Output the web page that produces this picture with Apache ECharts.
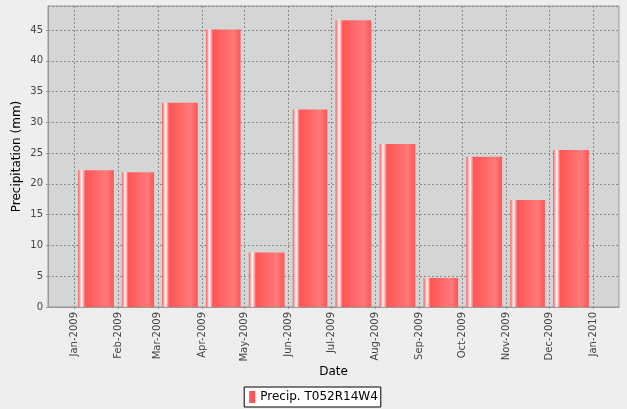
<!DOCTYPE html>
<html>
<head>
<meta charset="utf-8">
<script src="https://cdn.jsdelivr.net/npm/echarts@6/dist/echarts.min.js"></script>
<style>
  html, body { margin: 0; padding: 0; background: #eeeeee; }
  #precip-chart { width: 627px; height: 409px; }
</style>
</head>
<body>
<div id="precip-chart"></div>
<script>
// monthly precipitation, 2009
const months = ['2009-01', '2009-02', '2009-03', '2009-04', '2009-05', '2009-06',
                '2009-07', '2009-08', '2009-09', '2009-10', '2009-11', '2009-12'];
const precip = [22.2, 21.9, 33.2, 45.1, 8.85, 32.1, 46.6, 26.5, 4.7, 24.4, 17.4, 25.5];
const tickMonths = ['2009-01', '2009-02', '2009-03', '2009-04', '2009-05', '2009-06', '2009-07',
                    '2009-08', '2009-09', '2009-10', '2009-11', '2009-12', '2010-01'];
const seriesName = 'Precip. T052R14W4';

function monthStart(s) {
  const p = s.split('-');
  return new Date(+p[0], +p[1] - 1, 1).getTime();
}
function nextMonth(s) {
  const p = s.split('-');
  return new Date(+p[0], +p[1], 1).getTime();
}

const first = monthStart(months[0]);
const last = nextMonth(months[months.length - 1]);
const pad = (last - first) * 0.05;

const barData = months.map((m, i) => [monthStart(m), nextMonth(m), precip[i]]);
const tickValues = tickMonths.map(monthStart);

const barFill = new echarts.graphic.LinearGradient(0, 0, 1, 0, [
  { offset: 0, color: '#ff5555' },
  { offset: 0.1, color: '#ffffff' },
  { offset: 0.2, color: '#ff5555' },
  { offset: 0.8, color: '#ff7979' },
  { offset: 1, color: '#ff5555' }
]);

const chart = echarts.init(document.getElementById('precip-chart'));
const font = 'DejaVu Sans';
chart.setOption({
  backgroundColor: '#eeeeee',
  animation: false,
  textStyle: { fontFamily: font },
  grid: {
    left: 48, top: 6, right: 8, bottom: 102,
    show: true, backgroundColor: '#d4d6d6', borderColor: '#999999', borderWidth: 1
  },
  legend: {
    data: [seriesName],
    bottom: 2,
    left: 'center',
    icon: 'rect',
    itemWidth: 6,
    itemHeight: 12,
    itemGap: 5,
    padding: [4, 3, 4, 5],
    borderColor: '#000000',
    borderWidth: 1,
    backgroundColor: '#ffffff',
    textStyle: { fontFamily: font, fontSize: 12, color: '#000000' }
  },
  xAxis: {
    type: 'time',
    min: first - pad,
    max: last + pad,
    name: 'Date',
    nameLocation: 'middle',
    nameGap: 59,
    nameMoveOverlap: false,
    nameTextStyle: { fontFamily: font, fontSize: 12, color: '#000000' },
    axisLine: { lineStyle: { color: '#999999' } },
    axisTick: { show: true, customValues: tickValues, length: 2, lineStyle: { color: '#999999' } },
    axisLabel: {
      customValues: tickValues,
      rotate: 90,
      margin: 5,
      fontSize: 10,
      color: '#444444',
      formatter: '{MMM}-{yyyy}'
    },
    splitLine: { show: true, lineStyle: { color: '#8c8c8c', type: [2, 2], width: 1 } }
  },
  yAxis: {
    type: 'value',
    min: 0,
    max: 48.9,
    interval: 5,
    name: 'Precipitation (mm)',
    nameLocation: 'middle',
    nameGap: 25,
    nameMoveOverlap: false,
    nameTextStyle: { fontFamily: font, fontSize: 12, color: '#000000' },
    axisLine: { show: true, lineStyle: { color: '#999999' } },
    axisTick: { show: true, length: 2, lineStyle: { color: '#999999' } },
    axisLabel: { fontSize: 10, color: '#444444', margin: 5, showMaxLabel: false },
    splitLine: { show: true, lineStyle: { color: '#8c8c8c', type: [2, 2], width: 1 } }
  },
  series: [{
    name: seriesName,
    type: 'custom',
    itemStyle: { color: '#ff5555' },
    encode: { x: [0, 1], y: 2 },
    data: barData,
    renderItem: function (params, api) {
      const top = api.coord([api.value(0), api.value(2)]);
      const bot = api.coord([api.value(1), 0]);
      const w = bot[0] - top[0];
      const m = w * 0.095;
      return {
        type: 'rect',
        shape: { x: top[0] + m, y: top[1], width: w - 2 * m, height: bot[1] - top[1] },
        style: { fill: barFill }
      };
    }
  }]
});
</script>
</body>
</html>
